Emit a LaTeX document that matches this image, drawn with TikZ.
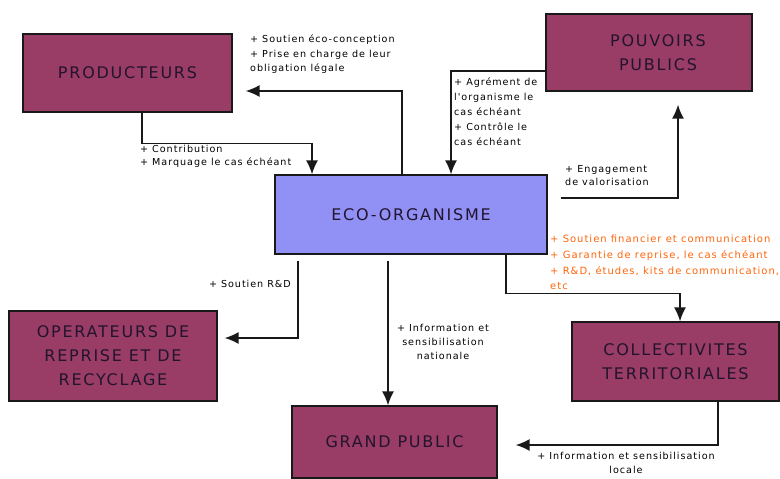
\documentclass[tikz,border=0pt]{standalone}
\usepackage{fontspec}
\setmainfont{DejaVu Sans}
\newfontfamily\boxfont[LetterSpace=11]{DejaVu Sans}
\newfontfamily\notefont[LetterSpace=10]{DejaVu Sans}
\usetikzlibrary{arrows.meta,calc}
\definecolor{magbox}{RGB}{153,60,102}
\definecolor{lavbox}{RGB}{145,145,245}
\definecolor{boxtxt}{RGB}{35,20,45}
\definecolor{orangetxt}{RGB}{255,100,10}
\tikzset{
  bigbox/.style={draw=black!90, line width=1.3pt, fill=magbox, inner sep=0pt,
    align=center, text=boxtxt, font=\boxfont\fontsize{16}{24}\selectfont},
  ecobox/.style={bigbox, fill=lavbox},
  arr/.style={line width=1.5pt, draw=black!90, -{Latex[length=14pt,width=12pt]}},
  note/.style={inner sep=0pt, font=\notefont\fontsize{9.6}{14.5}\selectfont, text=black},
}
\begin{document}
\begin{tikzpicture}[x=1pt,y=-1pt]
\useasboundingbox (0,0) rectangle (780,479);
% boxes
\node[bigbox, minimum width=209pt, minimum height=78pt] (prod) at (127.5,73) {PRODUCTEURS};
\node[bigbox, minimum width=206pt, minimum height=77pt] (pouv) at (649,52.5) {\hspace*{18pt}POUVOIRS\\\hspace*{18pt}PUBLICS};
\node[ecobox, minimum width=272pt, minimum height=79pt] (eco) at (411,214.5) {ECO-ORGANISME};
\node[bigbox, minimum width=208pt, minimum height=90pt] (oper) at (113,356) {OPERATEURS DE\\REPRISE ET DE\\RECYCLAGE};
\node[bigbox, minimum width=207pt, minimum height=79pt] (coll) at (675.5,361.5) {COLLECTIVITES\\TERRITORIALES};
\node[bigbox, minimum width=205pt, minimum height=72pt] (gp) at (394.5,442) {GRAND PUBLIC};
% free ends
\coordinate (t1) at ($(prod.east)+(13,18)$);
\coordinate (t4) at ($(pouv.south)+(29,13)$);
\coordinate (t7) at ($(oper.east)+(7,-18)$);
\coordinate (t8) at ($(gp.east)+(18,3)$);
% connectors
\draw[arr] ($(eco.north)+(-9,0)$) |- (t1);
\draw[arr] ($(prod.south)+(14.5,0)$) -- ++(0,31) -| ($(eco.north)+(-99,0)$);
\draw[arr] ($(pouv.west)+(0,18.5)$) -| ($(eco.north)+(40,0)$);
\draw[arr] ($(eco.east)+(13,-16.5)$) -| (t4);
\draw[arr] ($(eco.south)+(95,0)$) -- ++(0,39) -| ($(coll.north)+(4.5,0)$);
\draw[arr] ($(eco.south)+(-23,6)$) -- ($(gp.north)+(-6.5,0)$);
\draw[arr] ($(eco.south)+(-113,6)$) |- (t7);
\draw[arr] ($(coll.south)+(42.5,0)$) |- (t8);
% notes
\node[note, anchor=north west, align=left] (n1) at (250,35) {+ Soutien éco-conception\\+ Prise en charge de leur\\obligation légale};
\node[note, anchor=north west, align=left, font=\notefont\fontsize{9.6}{14.8}\selectfont] (n2) at (454,78) {+ Agrément de\\l'organisme le\\cas échéant\\+ Contrôle le\\cas échéant};
\node[note, anchor=north west, align=left, font=\notefont\fontsize{9.6}{13}\selectfont] (n3) at (140,145) {+ Contribution\\+ Marquage le cas échéant};
\node[note, anchor=north west, align=left, font=\notefont\fontsize{9.6}{13}\selectfont] (n4) at (565,165) {+ Engagement\\de valorisation};
\node[note, anchor=north west, align=left, text=orangetxt, font=\notefont\fontsize{10}{15.7}\selectfont] (n5) at (550,235) {+ Soutien financier et communication\\+ Garantie de reprise, le cas échéant\\+ R\&D, études, kits de communication,\\etc};
\node[note, anchor=north east, align=right] (n6) at (291,280) {+ Soutien R\&D};
\node[note, anchor=north, align=center, font=\notefont\fontsize{9.6}{14}\selectfont] (n7) at (443,324) {+ Information et\\sensibilisation\\nationale};
\node[note, anchor=north, align=center, font=\notefont\fontsize{9.6}{14}\selectfont] (n8) at (626,452) {+ Information et sensibilisation\\locale};
\end{tikzpicture}
\end{document}
